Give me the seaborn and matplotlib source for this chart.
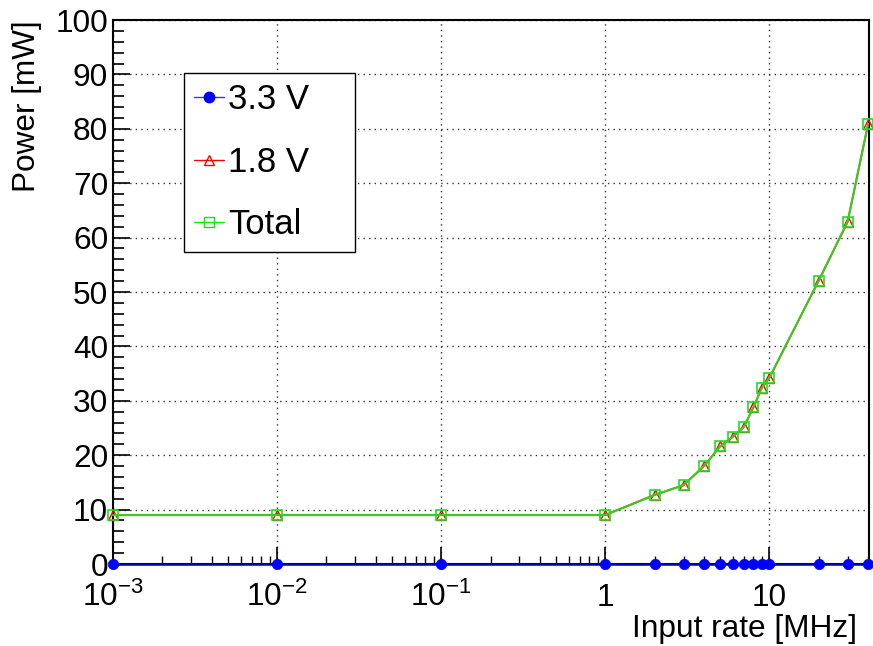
import matplotlib
matplotlib.use("Agg")
import numpy as np
import pandas as pd
import seaborn as sns
import matplotlib.pyplot as plt
from matplotlib.lines import Line2D
from matplotlib.ticker import LogLocator, MultipleLocator, NullFormatter

# ---- data ----
rates = [0.001, 0.01, 0.1, 1, 2, 3, 4, 5, 6, 7, 8, 9, 10, 20, 30, 40]
power_3v3 = [0.0, 0.0, 0.0, 0.0, 0.0, 0.0, 0.0, 0.0, 0.0, 0.0, 0.0, 0.0, 0.0, 0.0, 0.0, 0.0]
power_1v8 = [9.0, 9.0, 9.0, 9.0, 12.7, 14.5, 18.0, 21.6, 23.4, 25.2, 28.8, 32.4, 34.2, 52.1, 62.9, 80.9]
power_total = [9.0, 9.0, 9.0, 9.0, 12.7, 14.5, 18.0, 21.6, 23.4, 25.2, 28.8, 32.4, 34.2, 52.1, 62.9, 80.9]
series_labels = ["3.3 V", "1.8 V", "Total"]
x_tick_values = [1e-3, 1e-2, 1e-1, 1, 10]
x_tick_labels = ["$10^{-3}$", "$10^{-2}$", "$10^{-1}$", "1", "10"]
y_tick_values = [0, 10, 20, 30, 40, 50, 60, 70, 80, 90, 100]

sns.set_theme(style="white")
plt.rcParams["font.family"] = ["Liberation Sans", "DejaVu Sans"]
plt.rcParams["mathtext.fontset"] = "custom"
plt.rcParams["mathtext.rm"] = "Liberation Sans"
plt.rcParams["mathtext.it"] = "Liberation Sans:italic"
plt.rcParams["mathtext.bf"] = "Liberation Sans:bold"
plt.rcParams["text.color"] = "black"
plt.rcParams["axes.labelcolor"] = "black"
plt.rcParams["xtick.color"] = "black"
plt.rcParams["ytick.color"] = "black"

df = pd.DataFrame({"rate": rates, "p33": power_3v3, "p18": power_1v8, "ptot": power_total})

fig = plt.figure(figsize=(8.73, 6.46), dpi=100)
ax = fig.add_axes([113 / 873, 82 / 646, 756 / 873, 544 / 646])
ax.set_xscale("log")

sns.lineplot(data=df, x="rate", y="p18", ax=ax, color="#ff0000", linewidth=1.2,
             marker="^", markersize=7, markerfacecolor="none", markeredgecolor="#ff0000",
             markeredgewidth=1.0, clip_on=False, zorder=3, legend=False)
sns.lineplot(data=df, x="rate", y="ptot", ax=ax, color="#44c424", linewidth=1.6,
             marker="s", markersize=7.5, markerfacecolor="none", markeredgecolor="#22dd22",
             markeredgewidth=1.2, clip_on=False, zorder=4, legend=False)
sns.lineplot(data=df, x="rate", y="p33", ax=ax, color="#0000b0", linewidth=1.8,
             marker="o", markersize=7.5, markerfacecolor="#0000ff", markeredgecolor="#0000ff",
             markeredgewidth=0.5, clip_on=False, zorder=5, legend=False)

ax.set_xlim(1e-3, 40.5)
ax.set_ylim(0, 100)

ax.set_xticks(x_tick_values)
ax.set_xticklabels(x_tick_labels)
ax.xaxis.set_minor_locator(LogLocator(base=10, subs=np.arange(2, 10), numticks=20))
ax.xaxis.set_minor_formatter(NullFormatter())
ax.set_yticks(y_tick_values)
ax.set_yticklabels([str(v) for v in y_tick_values])
ax.yaxis.set_minor_locator(MultipleLocator(2))

ax.tick_params(axis="both", which="both", direction="in", top=False, right=False,
               bottom=True, left=True, color="black", labelcolor="black")
ax.tick_params(axis="y", which="major", length=12, width=1.2, labelsize=22.8, pad=3.5)
ax.tick_params(axis="y", which="minor", length=8, width=1.2)
ax.tick_params(axis="x", which="major", length=12, width=1.2, labelsize=22.8, pad=30)
ax.tick_params(axis="x", which="minor", length=6, width=1.0)
for t in ax.get_xticklabels():
    t.set_verticalalignment("baseline")

ax.grid(True, which="major", linestyle=(0, (1, 3)), color="#333333", linewidth=1.0)
ax.set_axisbelow(True)

for s in ax.spines.values():
    s.set_color("black")
    s.set_linewidth(1.5)

ax.set_ylabel("Power [mW]", fontsize=22.7, loc="top", labelpad=10, color="black")
ax.set_xlabel("Input rate [MHz]", fontsize=22.8, loc="right", labelpad=1, color="black")
ax.xaxis.label.set_x((857 - 113) / 756)

handles = [
    Line2D([], [], color="#3333ff", linewidth=1.0, marker="o", markersize=7.5,
           markerfacecolor="#0000ff", markeredgecolor="#0000ff"),
    Line2D([], [], color="#ff0000", linewidth=1.0, marker="^", markersize=7.5,
           markerfacecolor="none", markeredgecolor="#ff0000"),
    Line2D([], [], color="#00ee00", linewidth=1.0, marker="s", markersize=7.5,
           markerfacecolor="none", markeredgecolor="#00ee00"),
]
leg = ax.legend(handles, series_labels, loc="upper left",
                bbox_to_anchor=(0.0939, 0.5, 0.2262, 0.4026), mode="expand",
                fontsize=25, frameon=True, fancybox=False, edgecolor="black",
                framealpha=1, borderpad=0.3, labelspacing=0.85, handlelength=0.85,
                handletextpad=0.12, borderaxespad=0)
leg.get_frame().set_linewidth(1.0)
for t in leg.get_texts():
    t.set_color("black")

fig.savefig("out.png", dpi=100, facecolor="white")
